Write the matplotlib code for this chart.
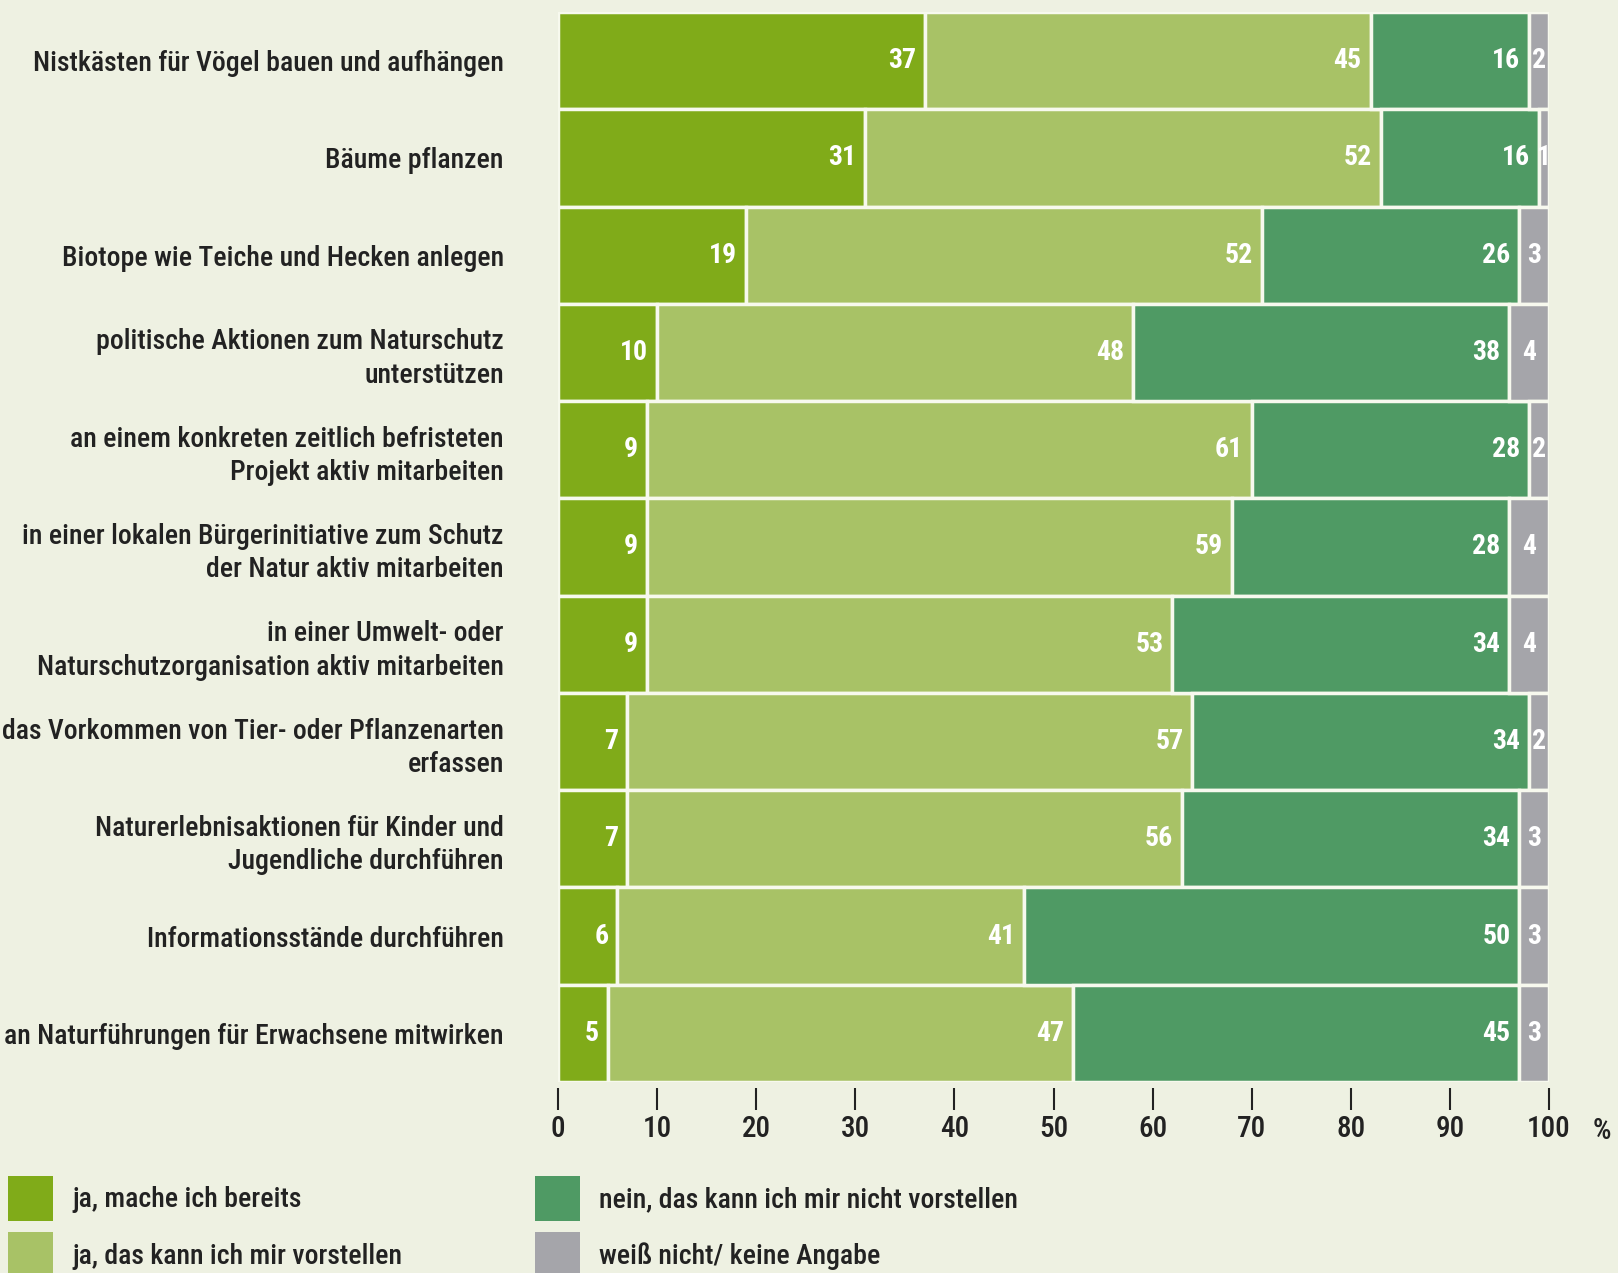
import matplotlib
matplotlib.use("Agg")
import matplotlib.pyplot as plt
from matplotlib import font_manager
from matplotlib.patches import Patch

categories = [
    "Nistkästen für Vögel bauen und aufhängen",
    "Bäume pflanzen",
    "Biotope wie Teiche und Hecken anlegen",
    "politische Aktionen zum Naturschutz\nunterstützen",
    "an einem konkreten zeitlich befristeten\nProjekt aktiv mitarbeiten",
    "in einer lokalen Bürgerinitiative zum Schutz\nder Natur aktiv mitarbeiten",
    "in einer Umwelt- oder\nNaturschutzorganisation aktiv mitarbeiten",
    "das Vorkommen von Tier- oder Pflanzenarten\nerfassen",
    "Naturerlebnisaktionen für Kinder und\nJugendliche durchführen",
    "Informationsstände durchführen",
    "an Naturführungen für Erwachsene mitwirken",
]
ja_bereits = [37, 31, 19, 10, 9, 9, 9, 7, 7, 6, 5]
ja_vorstellbar = [45, 52, 52, 48, 61, 59, 53, 57, 56, 41, 47]
nein = [16, 16, 26, 38, 28, 28, 34, 34, 34, 50, 45]
weiss_nicht = [2, 1, 3, 4, 2, 4, 4, 2, 3, 3, 3]
series_labels = ["ja, mache ich bereits", "ja, das kann ich mir vorstellen",
                 "nein, das kann ich mir nicht vorstellen", "weiß nicht/ keine Angabe"]
x_ticks = [0, 10, 20, 30, 40, 50, 60, 70, 80, 90, 100]

colors = ["#80ab19", "#a8c266", "#4f9a64", "#a5a5aa"]
bg = "#eef1e2"

avail = {f.name for f in font_manager.fontManager.ttflist}
family = "DejaVu Sans"
for cand in ["Roboto Condensed", "DejaVu Sans Condensed", "Liberation Sans Narrow", "Open Sans Condensed"]:
    if cand in avail:
        family = cand
        break
plt.rcParams["font.family"] = [family, "DejaVu Sans"]
condensed = family != "DejaVu Sans"
fs = 20 if condensed else 15
tw = "medium"
tc = "#222222"

W, H = 1618, 1273
fig = plt.figure(figsize=(W / 100, H / 100), dpi=100, facecolor=bg)
ax = fig.add_axes([558 / W, 1 - 1082 / H, (1549 - 558) / W, (1082 - 12) / H])
ax.set_facecolor(bg)

series = [ja_bereits, ja_vorstellbar, nein, weiss_nicht]
y = list(range(len(categories)))
left = [0] * len(categories)
for si, vals in enumerate(series):
    bars = ax.barh(y, vals, left=left, height=1.0, color=colors[si],
                   edgecolor="#f7f9ee", linewidth=2.5)
    for i, (b, v) in enumerate(zip(bars, vals)):
        if si < 3:
            t = ax.text(left[i] + v - 0.9, i, str(v), ha="right", va="center",
                        color="white", fontsize=fs, fontweight="bold")
        else:
            t = ax.text(left[i] + v / 2, i, str(v), ha="center", va="center",
                        color="white", fontsize=fs, fontweight="bold")
            t.set_clip_path(b)
    left = [l + v for l, v in zip(left, vals)]

ax.set_xlim(0, 100)
ax.set_ylim(len(categories) - 0.5, -0.5)
for s in ["top", "right", "left"]:
    ax.spines[s].set_visible(False)
ax.spines["bottom"].set_position(("outward", 4))
ax.spines["bottom"].set_visible(False)
ax.set_xticks(x_ticks)
ax.set_xticklabels([str(t) for t in x_ticks])
ax.tick_params(axis="x", direction="out", length=16, width=1.5, color=tc,
               labelsize=fs + 1, labelcolor=tc, pad=4)
for lab in ax.get_xticklabels():
    lab.set_fontweight(tw)
ax.set_yticks(y)
ax.set_yticklabels(categories, fontsize=fs, color=tc, linespacing=1.3,
                   fontweight=tw)
ax.tick_params(axis="y", length=0, pad=39)
for lab in ax.get_yticklabels():
    lab.set_horizontalalignment("right")

ax.annotate("%", xy=(100, 0), xycoords=("data", "axes fraction"),
            xytext=(38, -25), textcoords="offset points", ha="center",
            va="top", fontsize=fs + 1, color=tc, fontweight=tw)

handles = [Patch(facecolor=c, edgecolor="none") for c in colors]
common = dict(loc="upper left", frameon=False, fontsize=fs, handlelength=1.62,
              handleheight=2.1, handletextpad=0.7, labelspacing=0.42,
              borderpad=0, borderaxespad=0)
leg1 = fig.legend(handles[:2], series_labels[:2],
                  bbox_to_anchor=(8 / W, 1 - 1176 / H), **common)
leg2 = fig.legend(handles[2:], series_labels[2:],
                  bbox_to_anchor=(535 / W, 1 - 1176 / H), **common)
for leg in (leg1, leg2):
    for t in leg.get_texts():
        t.set_color(tc)
        t.set_fontweight(tw)

fig.savefig("out.png", dpi=100, facecolor=bg)
